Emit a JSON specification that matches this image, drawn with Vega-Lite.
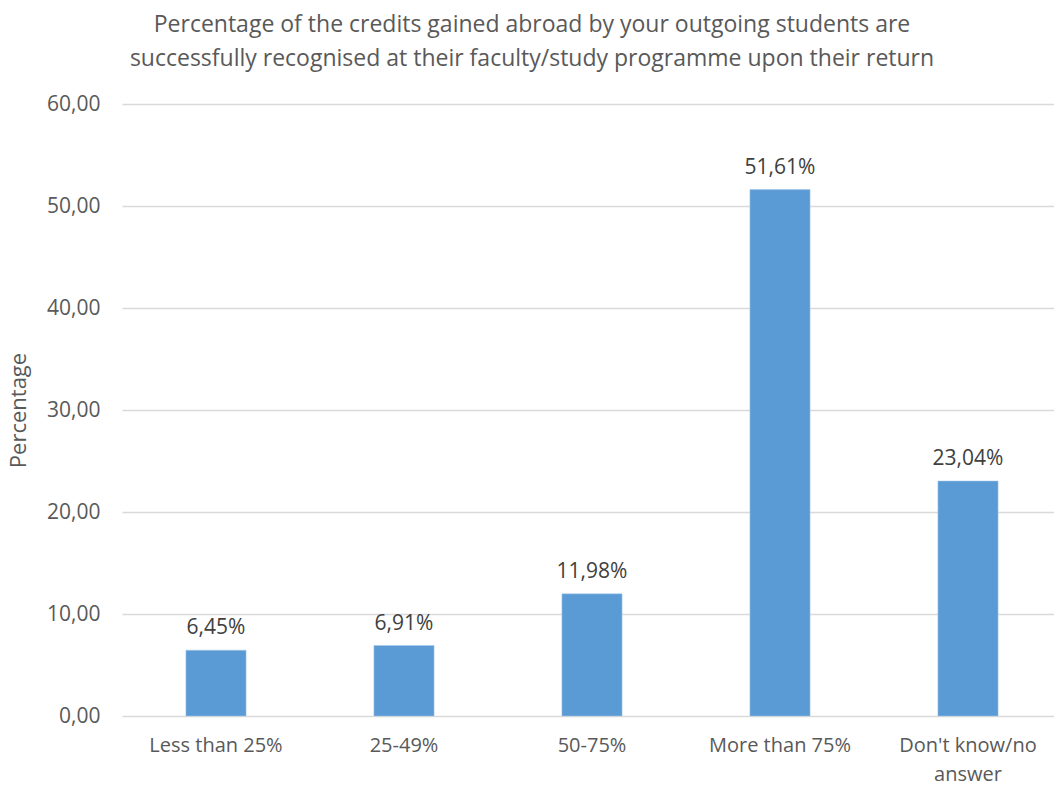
{
  "$schema": "https://vega.github.io/schema/vega-lite/v6.json",
  "width": 940,
  "height": 612,
  "autosize": "none",
  "padding": {"left": 122, "top": 104, "right": 0, "bottom": 69},
  "background": "white",
  "title": {
    "text": ["Percentage of the credits gained abroad by your outgoing students are", "successfully recognised at their faculty/study programme upon their return"],
    "anchor": "middle",
    "frame": "group",
    "dx": -60,
    "offset": 22,
    "font": "Open Sans",
    "fontSize": 23,
    "fontWeight": "normal",
    "color": "#595959",
    "lineHeight": 34,
    "baseline": "top"
  },
  "data": {
    "values": [
      {"category": "Less than 25%", "value": 6.45},
      {"category": "25-49%", "value": 6.91},
      {"category": "50-75%", "value": 11.98},
      {"category": "More than 75%", "value": 51.61},
      {"category": "Don't know/no answer", "value": 23.04}
    ]
  },
  "encoding": {
    "x": {
      "field": "category",
      "type": "nominal",
      "sort": null,
      "scale": {"paddingInner": 0.68, "paddingOuter": 0.34},
      "axis": {
        "title": null,
        "labelAngle": 0,
        "domain": false,
        "ticks": false,
        "labelPadding": 19,
        "labelFont": "Open Sans",
        "labelFontSize": 20,
        "labelColor": "#595959",
        "labelLineHeight": 29,
        "labelExpr": "datum.value == \"Don't know/no answer\" ? [\"Don't know/no\", \"answer\"] : datum.value"
      }
    },
    "y": {
      "field": "value",
      "type": "quantitative",
      "scale": {"domain": [0, 60], "nice": false},
      "axis": {
        "title": "Percentage",
        "titleFont": "Open Sans",
        "titleFontSize": 22,
        "titleFontWeight": "normal",
        "titleColor": "#595959",
        "titlePadding": 16,
        "values": [0, 10, 20, 30, 40, 50, 60],
        "labelExpr": "replace(format(datum.value, '.2f'), '.', ',')",
        "labelFont": "Open Sans",
        "labelFontSize": 21,
        "labelColor": "#595959",
        "labelPadding": 22,
        "domain": false,
        "ticks": false,
        "grid": true,
        "gridColor": "#d9d9d9",
        "gridWidth": 1.5
      }
    }
  },
  "layer": [
    {
      "mark": {"type": "bar", "color": "#5b9bd5", "stroke": "#a9c9ea", "strokeWidth": 0.5}
    },
    {
      "mark": {
        "type": "text",
        "baseline": "alphabetic",
        "dy": -16,
        "font": "Open Sans",
        "fontSize": 21,
        "color": "#404040"
      },
      "encoding": {
        "text": {"field": "label"}
      },
      "transform": [
        {"calculate": "replace(format(datum.value, '.2f'), '.', ',') + '%'", "as": "label"}
      ]
    }
  ],
  "config": {"view": {"stroke": null}}
}
